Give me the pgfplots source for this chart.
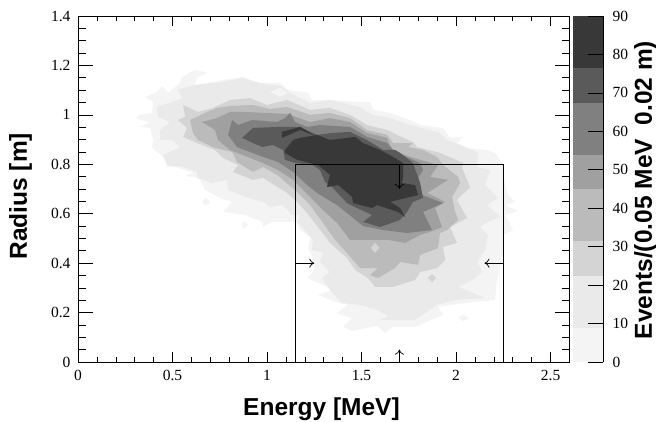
\documentclass[border=0pt]{standalone}
\usepackage{fontspec}
\setmainfont{Liberation Serif}
\setsansfont{Liberation Sans}
\usepackage{pgfplots}
\pgfplotsset{compat=1.18}
\usetikzlibrary{arrows.meta}
\definecolor{c1}{HTML}{F4F4F4}
\definecolor{c2}{HTML}{EAEAEA}
\definecolor{c3}{HTML}{D4D4D4}
\definecolor{c4}{HTML}{BBBBBB}
\definecolor{c5}{HTML}{A0A0A0}
\definecolor{c6}{HTML}{808080}
\definecolor{c7}{HTML}{5A5A5A}
\definecolor{c8}{HTML}{383838}
\pgfplotsset{
  tl/.style={tick label style={font=\fontsize{15.5}{16}\selectfont},scaled ticks=false},
}
\tikzset{lb/.style={font=\fontsize{24.5}{25}\selectfont\sffamily\bfseries},ar/.style={black,line width=0.7pt,-{To[length=5pt,width=9pt]}}}
\begin{document}
\begin{tikzpicture}
\useasboundingbox (0,0) rectangle (656pt,421pt);
\begin{axis}[at={(78pt,59pt)},anchor=south west,scale only axis,width=491.5pt,height=346pt,
  xmin=0,xmax=2.6,ymin=0,ymax=1.4,tl,axis line style={line width=0.9pt},
  xtick=\empty,ytick={0,0.2,0.4,0.6,0.8,1,1.2,1.4},yticklabels={0,0.2,0.4,0.6,0.8,1,1.2,1.4},minor y tick num=3,
  yticklabel style={xshift=-4pt},
  major tick length=15pt,minor tick length=8pt,tick style={black,line width=0.6pt},
  ylabel={Radius [m]},ylabel style={lb,at={(axis description cs:-0.117,0.479)},anchor=center},
  axis on top]
\addplot[fill=c1,draw=none] coordinates {(.354,1.072)(.418,1.093)(.444,1.117)(.476,1.089)(.540,1.129)(.550,1.153)(.619,1.182)(.688,1.170)(.630,1.153)(.619,1.121)(.767,1.141)(.873,1.153)(.947,1.129)(1.069,1.129)(1.111,1.101)(1.217,1.089)(1.238,1.060)(1.333,1.060)(1.492,1.052)(1.545,1.052)(1.561,1.020)(1.651,1.008)(1.757,.979)(1.810,.959)(1.931,.947)(1.968,.907)(2.037,.911)(2.005,.886)(2.058,.866)(2.164,.858)(2.206,.846)(2.249,.797)(2.249,.749)(2.275,.676)(2.312,.648)(2.259,.635)(2.328,.611)(2.259,.595)(2.302,.534)(2.249,.514)(2.249,.441)(2.217,.332)(2.206,.251)(2.058,.239)(1.905,.223)(1.931,.190)(1.783,.142)(1.667,.142)(1.624,.117)(1.582,.146)(1.450,.125)(1.402,.142)(1.450,.178)(1.370,.198)(1.429,.231)(1.360,.243)(1.270,.271)(1.344,.291)(1.296,.312)(1.212,.340)(1.243,.364)(1.254,.405)(1.217,.461)(1.228,.506)(1.175,.534)(1.153,.567)(1.026,.567)(.979,.546)(.974,.567)(.884,.595)(.767,.607)(.815,.648)(.762,.660)(.672,.696)(.661,.716)(.635,.745)(.566,.753)(.608,.765)(.513,.789)(.471,.789)(.450,.830)(.392,.866)(.397,.898)(.381,.947)(.328,.951)(.381,.971)(.339,.979)(.307,.987)(.328,1.000)(.392,1.008)(.397,1.052)} -- cycle;
\addplot[fill=c1,draw=none] coordinates {(2.011,.178)(2.037,.190)(2.069,.178)(2.037,.166)} -- cycle;
\addplot[fill=c1,draw=none] coordinates {(.655,.648)(.677,.664)(.700,.648)(.677,.632)} -- cycle;
\addplot[fill=c1,draw=none] coordinates {(.866,.555)(.878,.571)(.900,.555)(.878,.539)} -- cycle;
\addplot[fill=c2,draw=none] coordinates {(.524,1.101)(.619,1.121)(.767,1.133)(.873,1.149)(.963,1.129)(1.069,1.117)(1.122,1.089)(1.228,1.048)(1.333,1.060)(1.492,1.032)(1.561,1.000)(1.651,.987)(1.757,.959)(1.915,.927)(1.952,.898)(2.037,.874)(2.116,.846)(2.111,.789)(2.180,.777)(2.153,.716)(2.222,.664)(2.164,.635)(2.233,.587)(2.169,.567)(2.127,.546)(2.169,.514)(2.153,.453)(2.111,.405)(2.138,.364)(2.090,.332)(2.011,.304)(2.153,.259)(1.995,.251)(1.899,.231)(1.783,.170)(1.598,.170)(1.640,.186)(1.587,.210)(1.492,.231)(1.397,.239)(1.333,.291)(1.291,.340)(1.333,.364)(1.280,.405)(1.296,.441)(1.238,.453)(1.243,.494)(1.159,.567)(1.175,.595)(1.132,.595)(1.085,.635)(1.016,.627)(.979,.648)(.884,.668)(.794,.696)(.788,.737)(.709,.724)(.630,.745)(.630,.769)(.556,.789)(.476,.797)(.450,.838)(.540,.870)(.497,.898)(.434,.898)(.434,.939)(.487,.971)(.423,.992)(.418,1.032)(.556,1.068)} -- cycle;
\addplot[fill=c1,draw=none] coordinates {(1.016,1.093)(1.069,1.109)(1.111,1.089)(1.069,1.073)} -- cycle;
\addplot[fill=c3,draw=none] coordinates {(.556,1.040)(.635,1.012)(.714,1.028)(.804,1.060)(.910,1.068)(1.000,1.040)(1.106,1.060)(1.228,1.020)(1.333,1.028)(1.439,1.000)(1.529,.959)(1.635,.939)(1.688,.919)(1.772,.890)(1.794,.870)(1.915,.846)(2.037,.805)(2.032,.785)(2.074,.708)(2.005,.656)(2.058,.583)(1.968,.546)(2.005,.482)(1.931,.465)(1.942,.413)(1.899,.380)(1.810,.364)(1.783,.332)(1.667,.304)(1.571,.304)(1.534,.340)(1.466,.372)(1.423,.421)(1.333,.482)(1.270,.546)(1.212,.603)(1.159,.648)(1.106,.684)(.979,.745)(.926,.737)(.820,.769)(.847,.797)(.767,.826)(.725,.858)(.630,.886)(.556,.911)(.577,.947)(.529,.979)(.566,.992)} -- cycle;
\addplot[fill=c3,draw=none] coordinates {(1.85,.340)(1.873,.356)(1.894,.340)(1.873,.324)} -- cycle;
\addplot[fill=c4,draw=none] coordinates {(.593,.979)(.672,1.008)(.735,1.028)(.804,1.036)(.926,1.040)(1.016,1.024)(1.106,1.032)(1.228,1.000)(1.333,1.008)(1.439,.987)(1.529,.939)(1.635,.919)(1.667,.886)(1.772,.886)(1.746,.870)(1.825,.858)(1.899,.830)(1.931,.797)(2.011,.749)(2.021,.724)(1.979,.668)(1.995,.607)(2.011,.575)(1.952,.534)(1.915,.522)(1.905,.461)(1.810,.433)(1.799,.393)(1.704,.405)(1.677,.380)(1.587,.340)(1.545,.352)(1.587,.380)(1.492,.380)(1.423,.441)(1.360,.494)(1.296,.563)(1.228,.635)(1.148,.696)(1.053,.757)(.979,.789)(.926,.769)(.841,.809)(.815,.850)(.725,.866)(.635,.898)(.608,.927)} -- cycle;
\addplot[fill=c5,draw=none] coordinates {(.656,.971)(.735,.987)(.804,1.012)(.873,1.012)(.979,1.008)(1.106,1.004)(1.228,.971)(1.333,.987)(1.439,.971)(1.529,.927)(1.635,.907)(1.661,.858)(1.757,.830)(1.810,.818)(1.905,.797)(1.862,.749)(1.958,.737)(1.847,.684)(1.942,.648)(1.889,.623)(1.926,.546)(1.862,.526)(1.810,.514)(1.730,.482)(1.640,.494)(1.439,.494)(1.370,.563)(1.296,.615)(1.201,.688)(1.138,.737)(1.058,.777)(.979,.805)(.804,.858)(.741,.898)(.725,.939)} -- cycle;
\addplot[fill=c3,draw=none] coordinates {(1.548,.462)(1.571,.482)(1.596,.462)(1.571,.442)} -- cycle;
\addplot[fill=c6,draw=none] coordinates {(.815,.979)(.847,.959)(.921,.979)(1.053,.971)(1.095,.987)(1.122,1.008)(1.148,.971)(1.212,.951)(1.280,.959)(1.439,.951)(1.529,.911)(1.635,.886)(1.677,.850)(1.810,.805)(1.825,.777)(1.799,.745)(1.820,.676)(1.931,.643)(1.825,.607)(1.873,.534)(1.741,.522)(1.614,.534)(1.508,.550)(1.423,.603)(1.370,.635)(1.265,.684)(1.212,.716)(1.138,.769)(1.058,.809)(.979,.830)(.841,.870)(.794,.919)} -- cycle;
\addplot[fill=c7,draw=none] coordinates {(.868,.907)(.926,.947)(1.053,.951)(1.175,.951)(1.265,.919)(1.349,.927)(1.439,.931)(1.529,.898)(1.614,.858)(1.677,.858)(1.704,.846)(1.772,.805)(1.810,.724)(1.825,.664)(1.772,.648)(1.741,.607)(1.704,.575)(1.598,.546)(1.508,.567)(1.556,.595)(1.476,.623)(1.423,.643)(1.349,.704)(1.307,.728)(1.280,.777)(1.243,.797)(1.153,.805)(1.095,.818)(1.085,.858)(1.032,.878)(.974,.870)(.926,.886)} -- cycle;
\addplot[fill=c8,draw=none] coordinates {(1.095,.858)(1.138,.898)(1.175,.907)(1.265,.919)(1.333,.898)(1.466,.911)(1.508,.886)(1.598,.858)(1.667,.830)(1.720,.805)(1.720,.749)(1.714,.724)(1.783,.716)(1.799,.676)(1.651,.648)(1.704,.623)(1.730,.587)(1.693,.607)(1.582,.635)(1.556,.623)(1.455,.643)(1.450,.668)(1.376,.716)(1.317,.708)(1.333,.757)(1.270,.797)(1.159,.818)(1.095,.846)} -- cycle;
\addplot[fill=c8,draw=none] coordinates {(1.079,.931)(1.175,.951)(1.254,.915)(1.175,.939)(1.079,.907)} -- cycle;
\addplot[black,line width=0.7pt] coordinates {(1.15,0)(1.15,0.8)(2.25,0.8)(2.25,0)};
\addplot[ar] coordinates {(1.15,0.4)(1.25,0.4)};
\addplot[ar] coordinates {(2.25,0.4)(2.15,0.4)};
\addplot[ar] coordinates {(1.7,0.8)(1.7,0.7)};
\addplot[ar] coordinates {(1.7,0)(1.7,0.05)};
\end{axis}
\begin{axis}[at={(78pt,59pt)},anchor=south west,scale only axis,width=491.5pt,height=346pt,
  xmin=0,xmax=2.6,ymin=0,ymax=1.4,tl,axis line style={line width=0.9pt},
  ytick=\empty,xtick={0,0.5,1,1.5,2,2.5},xticklabels={0,0.5,1,1.5,2,2.5},minor x tick num=4,
  xticklabel style={yshift=-5pt},
  major tick length=10pt,minor tick length=5pt,tick style={black,line width=0.6pt},
  xlabel={Energy [MeV]},xlabel style={lb,at={(axis description cs:0.4954,-0.136)},anchor=center}]
\end{axis}
\begin{axis}[at={(573pt,59pt)},anchor=south west,scale only axis,width=30pt,height=346pt,
  xmin=0,xmax=1,ymin=0,ymax=90,tl,axis x line=none,axis y line*=right,
  axis line style={line width=0.8pt},
  ytick={0,10,...,90},yticklabels={0,10,20,30,40,50,60,70,80,90},tick align=inside,major tick length=15pt,tick style={black,line width=0.6pt},
  yticklabel style={xshift=6pt},
  ylabel={Events/(0.05 MeV\ \ 0.02 m)},ylabel style={lb,inner sep=0pt,at={(axis description cs:2.42,0.497)},anchor=center,rotate=0},
  axis on top]
\addplot[fill=c1,draw=none] coordinates {(0,0)(1,0)(1,8.9)(0,8.9)} -- cycle;
\addplot[fill=c2,draw=none] coordinates {(0,8.9)(1,8.9)(1,22.4)(0,22.4)} -- cycle;
\addplot[fill=c3,draw=none] coordinates {(0,22.4)(1,22.4)(1,31.5)(0,31.5)} -- cycle;
\addplot[fill=c4,draw=none] coordinates {(0,31.5)(1,31.5)(1,44.9)(0,44.9)} -- cycle;
\addplot[fill=c5,draw=none] coordinates {(0,44.9)(1,44.9)(1,53.9)(0,53.9)} -- cycle;
\addplot[fill=c6,draw=none] coordinates {(0,53.9)(1,53.9)(1,67.4)(0,67.4)} -- cycle;
\addplot[fill=c7,draw=none] coordinates {(0,67.4)(1,67.4)(1,76.5)(0,76.5)} -- cycle;
\addplot[fill=c8,draw=none] coordinates {(0,76.5)(1,76.5)(1,90)(0,90)} -- cycle;
\end{axis}
\end{tikzpicture}
\end{document}
